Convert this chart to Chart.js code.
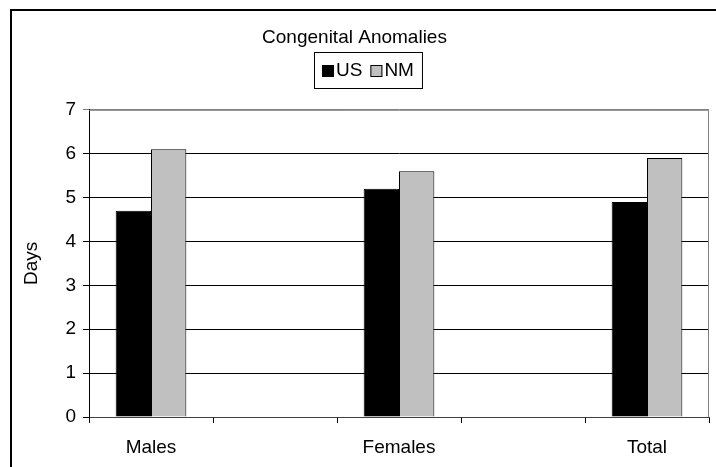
<!DOCTYPE html>
<html>
<head>
<meta charset="utf-8">
<script src="https://cdn.jsdelivr.net/npm/chart.js@4"></script>
<style>
    html, body { margin: 0; padding: 0; background: #fff; overflow: hidden; }
    #wrap { width: 716px; height: 467px; position: relative; }
</style>
</head>
<body>
<div id="wrap"><canvas id="chart" width="716" height="467"></canvas></div>
<script>
// --- Data ---
const categories = ['Males', '', 'Females', '', 'Total'];
const usValues = [4.7, null, 5.2, null, 4.9];
const nmValues = [6.1, null, 5.6, null, 5.9];
const seriesNames = ['US', 'NM'];
const yTicks = [0, 1, 2, 3, 4, 5, 6, 7];

const FONT = '"Liberation Sans", Arial, sans-serif';

// Outer frame, plot border and the boxed legend (Excel style)
const excelDecor = {
    id: 'excelDecor',
    beforeDraw(chart) {
        const ctx = chart.ctx;
        ctx.save();
        ctx.fillStyle = '#fff';
        ctx.fillRect(0, 0, chart.width, chart.height);
        ctx.strokeStyle = '#000';
        ctx.lineWidth = 2;
        ctx.strokeRect(11, 10, 800, 600);
        ctx.restore();
    },
    beforeDatasetsDraw(chart) {
        const { ctx, chartArea } = chart;
        ctx.save();
        ctx.strokeStyle = '#808080';
        ctx.lineWidth = 1;
        ctx.beginPath();
        ctx.moveTo(chartArea.left, chartArea.top + 0.5);
        ctx.lineTo(chartArea.right - 0.5, chartArea.top + 0.5);
        ctx.lineTo(chartArea.right - 0.5, chartArea.bottom);
        ctx.stroke();
        ctx.restore();
    },
    afterDraw(chart) {
        const ctx = chart.ctx;
        ctx.save();
        ctx.font = '19px ' + FONT;
        ctx.textBaseline = 'middle';
        const boxLeft = 314, boxTop = 52, boxH = 36;
        const midY = boxTop + boxH / 2 + 1;
        let x = boxLeft + 8;
        chart.data.datasets.forEach((ds, i) => {
            const sq = 12;
            ctx.fillStyle = ds.backgroundColor;
            ctx.fillRect(x, midY - sq / 2, sq, sq);
            ctx.strokeStyle = '#000';
            ctx.lineWidth = 1;
            ctx.strokeRect(x + 0.5, midY - sq / 2 + 0.5, sq - 1, sq - 1);
            x += sq + 2;
            ctx.fillStyle = '#000';
            ctx.fillText(ds.label, x, midY);
            x += ctx.measureText(ds.label).width;
            if (i < chart.data.datasets.length - 1) x += 8;
        });
        const boxW = x + 8 - boxLeft;
        ctx.strokeStyle = '#000';
        ctx.lineWidth = 1;
        ctx.strokeRect(boxLeft + 0.5, boxTop + 0.5, boxW, boxH);
        ctx.restore();
    }
};

new Chart(document.getElementById('chart').getContext('2d'), {
    type: 'bar',
    data: {
        labels: categories,
        datasets: [
            {
                label: seriesNames[0],
                data: usValues,
                backgroundColor: '#000000',
                borderColor: '#000000',
                borderWidth: 1
            },
            {
                label: seriesNames[1],
                data: nmValues,
                backgroundColor: '#C0C0C0',
                borderColor: '#000000',
                borderWidth: 1
            }
        ]
    },
    options: {
        responsive: false,
        animation: false,
        events: [],
        categoryPercentage: 0.57,
        barPercentage: 1,
        layout: { padding: { left: 0, right: 7, top: 0, bottom: 0 } },
        plugins: {
            legend: { display: false },
            tooltip: { enabled: false },
            title: {
                display: true,
                text: 'Congenital Anomalies',
                color: '#000',
                font: { family: FONT, size: 19, weight: 'normal' },
                padding: { top: 26, bottom: 61 }
            }
        },
        scales: {
            x: {
                afterFit: s => { s.height = 50; },
                grid: {
                    offset: true,
                    drawOnChartArea: false,
                    color: '#000',
                    tickLength: 6
                },
                border: { color: '#404040', width: 1 },
                ticks: {
                    color: '#000',
                    font: { family: FONT, size: 19 },
                    padding: 13,
                    maxRotation: 0
                }
            },
            y: {
                min: 0,
                max: 7,
                afterFit: s => { s.width = 89; },
                afterBuildTicks: s => { s.ticks = yTicks.map(v => ({ value: v })); },
                grid: {
                    color: c => (c.tick && c.tick.value === 7 ? '#808080' : '#000'),
                    tickLength: 6
                },
                border: { color: '#000', width: 1 },
                ticks: {
                    color: '#000',
                    font: { family: FONT, size: 19 },
                    padding: 7
                },
                title: {
                    display: true,
                    text: 'Days',
                    color: '#000',
                    font: { family: FONT, size: 19 },
                    padding: { top: 20, bottom: 0 }
                }
            }
        }
    },
    plugins: [excelDecor]
});
</script>
</body>
</html>
